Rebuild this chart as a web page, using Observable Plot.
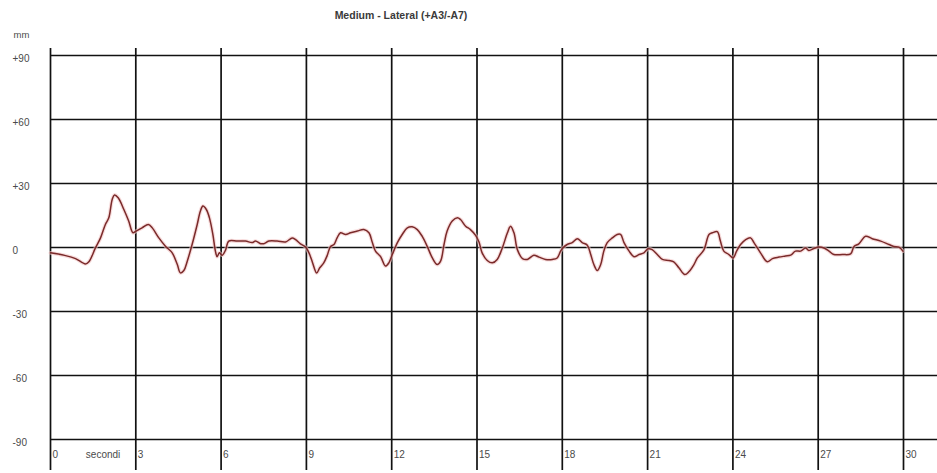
<!DOCTYPE html>
<html>
<head>
<meta charset="utf-8">
<script src="https://cdn.jsdelivr.net/npm/d3@7"></script>
<script src="https://cdn.jsdelivr.net/npm/@observablehq/plot@0.6"></script>
<style>
  html, body { margin: 0; padding: 0; background: #fff; }
  #wrap { width: 937px; height: 473px; position: relative; overflow: hidden; }
  #title { height: 24px; box-sizing: border-box; padding-top: 9px; width: 802px; text-align: center;
           font-family: "Liberation Sans", Arial, sans-serif; font-size: 10.5px; font-weight: bold; color: #3a3a3a; line-height: 12px; }
  svg { display: block; }
</style>
</head>
<body>
<div id="wrap">
  <div id="title">Medium - Lateral (+A3/-A7)</div>
  <div id="chart"></div>
</div>
<script>
const titleText = "Medium - Lateral (+A3/-A7)";
const yUnit = "mm";
const xUnit = "secondi";
const xTicks = [0, 3, 6, 9, 12, 15, 18, 21, 24, 27, 30];
const yTicks = [90, 60, 30, 0, -30, -60, -90];
const yTickLabels = ["+90", "+60", "+30", "0", "-30", "-60", "-90"];

const seconds = [
  0, 0.53, 0.88, 1.23, 1.35, 1.58, 1.76, 1.93, 2.05, 2.17, 2.25, 2.38, 2.58, 2.75, 2.90,
  3.01, 3.22, 3.44, 3.58, 3.81, 4.05, 4.28, 4.46, 4.57, 4.69, 4.81, 4.98, 5.16, 5.27, 5.36, 5.48, 5.59, 5.71, 5.80, 5.86, 5.94,
  6.04, 6.16, 6.27, 6.57, 6.86, 7.09, 7.21, 7.39, 7.5, 7.68, 7.97, 8.27, 8.50, 8.62, 8.79, 8.97,
  9.09, 9.20, 9.36, 9.47, 9.61, 9.73, 9.85, 9.97, 10.08, 10.2, 10.38, 10.55, 10.79, 11.02, 11.2, 11.32, 11.43, 11.61, 11.78, 11.9,
  12.02, 12.2, 12.37, 12.55, 12.72, 12.9, 13.07, 13.25, 13.43, 13.6, 13.72, 13.84, 13.95, 14.13, 14.31, 14.42, 14.6, 14.77, 14.95,
  15.07, 15.18, 15.36, 15.54, 15.71, 15.89, 16.07, 16.18, 16.3, 16.42, 16.6, 16.77, 17.0, 17.18, 17.41, 17.65, 17.82, 17.94,
  18.02, 18.17, 18.35, 18.53, 18.7, 18.88, 19.0, 19.11, 19.23, 19.35, 19.46, 19.58, 19.76, 19.93, 20.05, 20.17, 20.35, 20.52, 20.7, 20.87,
  21.02, 21.16, 21.34, 21.52, 21.75, 21.92, 22.1, 22.31, 22.45, 22.63, 22.75, 22.98, 23.16, 23.28, 23.45, 23.56, 23.68, 23.86,
  24.01, 24.13, 24.27, 24.45, 24.62, 24.74, 24.97, 25.21, 25.39, 25.62, 25.85, 26.03, 26.2, 26.38, 26.56, 26.67, 26.85,
  27.02, 27.2, 27.38, 27.55, 27.85, 28.14, 28.26, 28.43, 28.67, 28.9, 29.2, 29.49, 29.66, 29.84, 29.98
];
const mm = [
  -2.5, -3.8, -5.2, -7.7, -6.7, -0.2, 4.5, 10.8, 13.9, 22.5, 24.6, 23.3, 17.8, 12.4, 6.9,
  7.7, 9.2, 10.8, 9.2, 4.5, 0.5, -2.5, -8, -11.9, -10.8, -6.4, 1.4, 10.8, 17, 19.4, 17.8, 13.9, 6.1, -1.7, -4.3, -2.5,
  -3.6, -1.1, 3.0, 3.0, 3.0, 2.3, 3.0, 1.8, 1.8, 3.0, 3.0, 2.6, 4.5, 3.7, 1.7, 0.2,
  -2.5, -6.4, -11.9, -9.5, -7.2, -3.8, 0.5, 1.4, 4.5, 6.9, 6.1, 6.9, 7.7, 8.4, 6.9, 2.3, -1.7, -4.3, -8.7, -7.2,
  -3.3, 2.3, 6.1, 9.2, 9.7, 8.4, 5.3, 0.5, -4.9, -8, -6.4, 1.4, 7.7, 12.4, 13.9, 13.1, 10.0, 8.4, 5.7,
  2.6, -2.5, -6.1, -7.2, -5.6, -0.2, 6.9, 10.0, 6.9, -1.0, -5.2, -5.6, -3.6, -4.5, -5.6, -5.6, -4.9, -1.7,
  -0.2, 1.4, 2.3, 4.1, 2.3, 1.1, -3.3, -8, -10.8, -8, -1.7, 2.3, 4.5, 6.1, 6.1, 2.3, -1.7, -4.3, -3.3, -2.5,
  -0.6, -1.0, -3.3, -5.6, -6.1, -6.7, -9.5, -12.7, -11.4, -8, -4.9, -1.1, 6.1, 6.9, 7.4, 3.0, -1.7, -3.3,
  -4.9, -1.7, 1.4, 3.7, 4.5, 2.3, -2.5, -6.7, -5.2, -4.5, -4.0, -3.6, -1.7, -1.7, -0.2, -1.4, -0.5,
  0.2, -0.2, -1.7, -3.3, -3.3, -3.0, 0.5, 1.7, 5.3, 4.1, 3.0, 1.4, 0.5, 0.2, -1.7
];

const data = seconds.map((t, i) => ({t, v: mm[i]}));
const yLab = yTicks.map((v, i) => ({v, label: yTickLabels[i]}));

const font = "'Liberation Sans', Arial, sans-serif";

const chart = Plot.plot({
  width: 937,
  height: 449,
  marginTop: 24,
  marginBottom: 3,
  marginLeft: 50,
  marginRight: 0,
  style: {fontFamily: font, background: "#fff", overflow: "visible"},
  x: {domain: [0, 30], range: [50, 903], axis: null},
  y: {domain: [-90, 90], range: [415, 31], axis: null},
  marks: [
    Plot.ruleX(xTicks, {stroke: "#111", strokeWidth: 1.7}),
    Plot.ruleY(yTicks, {stroke: "#111", strokeWidth: 1.7}),
    Plot.line(data, {x: "t", y: "v", curve: "catmull-rom", stroke: "#f2c4c4", strokeWidth: 3.8, strokeOpacity: 0.6}),
    Plot.line(data, {x: "t", y: "v", curve: "catmull-rom", stroke: "#7a2a2a", strokeWidth: 1.5}),
    Plot.text(yLab, {y: "v", text: "label", frameAnchor: "left", dx: -38, dy: 3, textAnchor: "start",
      fontSize: 10, fill: "#4a4a4a"}),
    Plot.text(xTicks, {x: d => d, text: d => String(d), frameAnchor: "bottom", dx: 2, dy: -13, textAnchor: "start",
      fontSize: 10, fill: "#4a4a4a"}),
    Plot.text([xUnit], {x: () => 1.85, text: d => d, frameAnchor: "bottom", dy: -13, textAnchor: "middle",
      fontSize: 10, fill: "#4a4a4a"}),
    Plot.text([yUnit], {text: d => d, frameAnchor: "top-left", dx: -37, dy: -17, textAnchor: "start",
      fontSize: 9.5, fill: "#4a4a4a"})
  ]
});
document.getElementById("chart").appendChild(chart);
</script>
</body>
</html>
